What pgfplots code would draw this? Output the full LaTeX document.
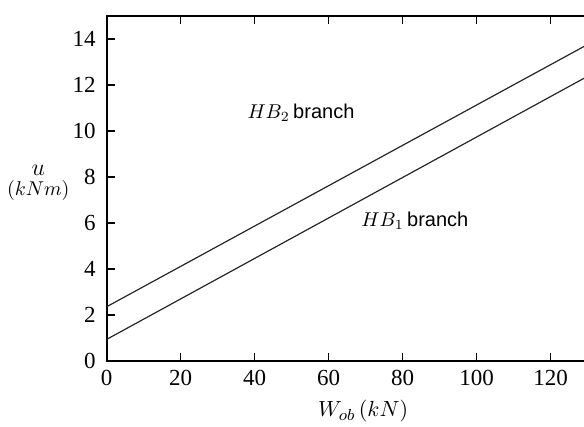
\documentclass[border=0pt]{standalone}
\usepackage{fontspec}
\setmainfont{Liberation Serif}
\newfontfamily\sansf{Liberation Sans}
\usepackage{pgfplots}
\pgfplotsset{compat=1.18}
\begin{document}
\begin{tikzpicture}
\begin{axis}[
  name=ax,
  scale only axis,
  width=244.2pt, height=172.5pt,
  xmin=0, xmax=132, ymin=0, ymax=15,
  xtick={0,20,...,120}, ytick={0,2,...,14},
  tick align=inside,
  xtick pos=both, ytick pos=left,
  major tick length=4pt,
  tick style={line width=0.8pt, black},
  axis line style={line width=1pt},
  /pgf/number format/assume math mode=true,
  ticklabel style={font=\fontsize{11.5}{13}\selectfont},
  xticklabel style={yshift=-1pt},
  yticklabel style={xshift=-2pt},
  xlabel={$W_{ob}\,(kN)$},
  xlabel style={at={(axis description cs:0.525,-0.145)}, anchor=center, font=\fontsize{11}{13}\selectfont},
  ylabel={{\large$u$}\\[-2pt]$(kNm)$},
  ylabel style={at={(axis description cs:-0.14,0.516)}, rotate=-90, anchor=center, align=center, font=\fontsize{10}{12}\selectfont},
  clip=true,
]
\addplot[black!85, line width=0.6pt] coordinates {(0,2.36) (140,14.64)};
\addplot[black!85, line width=0.6pt] coordinates {(0,0.94) (140,13.26)};
\node[anchor=center, font=\fontsize{10}{12}\selectfont] at (axis cs:52.5,10.8) {$HB_2$\,{\sansf branch}};
\node[anchor=center, font=\fontsize{10}{12}\selectfont] at (axis cs:83.3,6.1) {$HB_1$\,{\sansf branch}};
\end{axis}
\pgfresetboundingbox
\path ([shift={(-53.35pt,-33pt)}]ax.south west) rectangle ([shift={(238.65pt,180.5pt)}]ax.south west);
\end{tikzpicture}
\end{document}
